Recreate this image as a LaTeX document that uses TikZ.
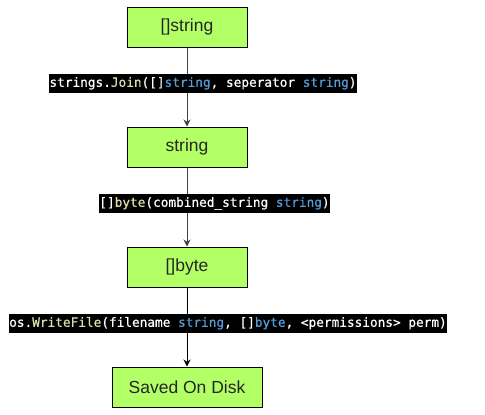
\documentclass[tikz,border=0pt]{standalone}
\usepackage{fontspec}
\setmainfont{Liberation Sans}
\newfontfamily\codefont[FakeBold=0.6]{DejaVu Sans Mono}
\usetikzlibrary{arrows.meta}
\definecolor{boxgreen}{HTML}{B3FF66}
\definecolor{codeyel}{HTML}{DCDCAA}
\definecolor{codeblue}{HTML}{569CD6}
\tikzset{
  box/.style={draw=black, line width=1pt, fill=boxgreen, minimum height=40pt,
    inner sep=0pt, font=\fontsize{17.5pt}{20pt}\selectfont, text=black!85},
  lab/.style={fill=black, text=white, inner sep=0pt, minimum height=19pt,
    font=\codefont\fontsize{12.75pt}{14pt}\selectfont, text height=9.5pt, text depth=3pt},
  conn/.style={draw=black!75, line width=1pt, -{Stealth[length=7pt,width=7pt]}}
}
\begin{document}
\begin{tikzpicture}[x=1pt,y=-1pt]
\useasboundingbox (0,0) rectangle (485,415);
\node[box, minimum width=120pt] (n1) at (187,27) {[]string};
\node[box, minimum width=120pt] (n2) at (187,147) {string};
\node[box, minimum width=120pt] (n3) at (187,267) {[]byte};
\node[box, minimum width=150pt] (n4) at (187,387) {Saved On Disk};
\draw[conn] (n1) -- node[lab, pos=0.456, xshift=16pt] (l1)
  {strings.\textcolor{codeyel}{Join}([]\textcolor{codeblue}{string}, seperator \textcolor{codeblue}{string})} (n2);
\draw[conn] (n2) -- node[lab, pos=0.456, xshift=27.5pt] (l2)
  {[]\textcolor{codeyel}{byte}(combined\_string \textcolor{codeblue}{string})} (n3);
\draw[conn, draw=black] (n3) -- node[lab, pos=0.456, xshift=41pt] (l3)
  {os.\textcolor{codeyel}{WriteFile}(filename \textcolor{codeblue}{string}, []\textcolor{codeblue}{byte}, <permissions> perm)} (n4);
\end{tikzpicture}
\end{document}
